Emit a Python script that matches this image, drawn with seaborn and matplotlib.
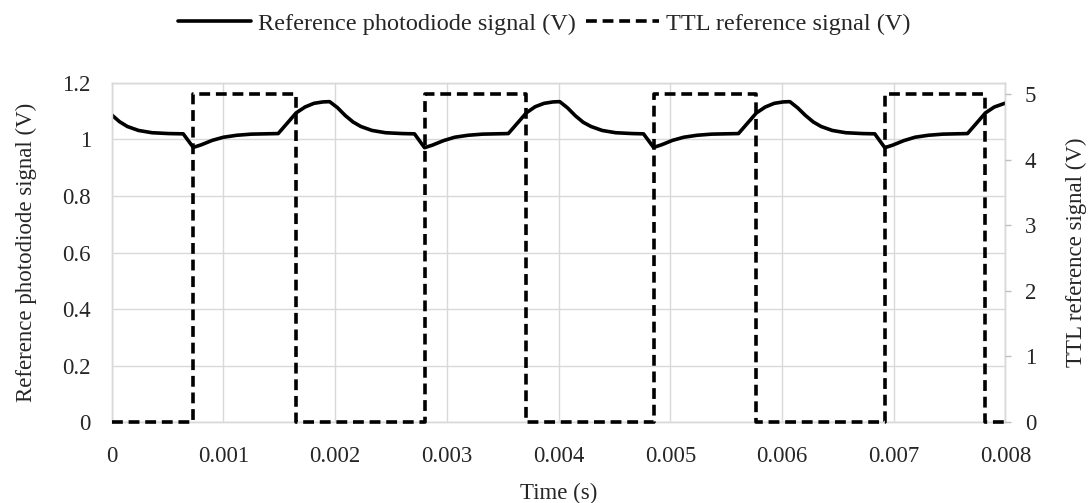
import numpy as np
import pandas as pd
import matplotlib
matplotlib.use("Agg")
import matplotlib.pyplot as plt
import seaborn as sns

# ---- data ----
pd_time = [0.0, 0.00007, 0.00014, 0.00024, 0.00036, 0.00051,
           0.00064, 0.00073, 0.00080, 0.00090, 0.00100, 0.00112, 0.00125, 0.00149, 0.00160, 0.00165,
           0.00173, 0.00181, 0.00189, 0.00195, 0.00202, 0.00209, 0.00216, 0.00223, 0.00233, 0.00245, 0.00260,
           0.00271, 0.00280, 0.00287, 0.00297, 0.00307, 0.00319, 0.00332, 0.00355, 0.00366, 0.00371,
           0.00379, 0.00387, 0.00395, 0.00401, 0.00408, 0.00415, 0.00422, 0.00429, 0.00439, 0.00451, 0.00466,
           0.00476, 0.00485, 0.00492, 0.00502, 0.00512, 0.00524, 0.00537, 0.00561, 0.00572, 0.00577,
           0.00585, 0.00593, 0.00601, 0.00607, 0.00614, 0.00621, 0.00628, 0.00635, 0.00645, 0.00657, 0.00672,
           0.00683, 0.00692, 0.00699, 0.00709, 0.00719, 0.00731, 0.00744, 0.00766, 0.00777, 0.00782,
           0.00790, 0.00800]
pd_signal = [1.087, 1.063, 1.046, 1.032, 1.024, 1.021,
             1.020, 0.972, 0.981, 0.997, 1.008, 1.015, 1.019, 1.021, 1.071, 1.094,
             1.115, 1.128, 1.133, 1.134, 1.113, 1.085, 1.062, 1.046, 1.032, 1.024, 1.021,
             1.020, 0.971, 0.980, 0.996, 1.008, 1.015, 1.019, 1.021, 1.071, 1.094,
             1.116, 1.128, 1.133, 1.134, 1.112, 1.084, 1.061, 1.046, 1.032, 1.024, 1.021,
             1.020, 0.972, 0.981, 0.997, 1.008, 1.015, 1.019, 1.021, 1.071, 1.094,
             1.115, 1.128, 1.133, 1.134, 1.112, 1.085, 1.062, 1.046, 1.032, 1.024, 1.021,
             1.020, 0.971, 0.980, 0.996, 1.008, 1.015, 1.019, 1.021, 1.071, 1.094,
             1.115, 1.129]

ttl_time = [0.0, 0.000731, 0.00165, 0.00280, 0.00371, 0.00485, 0.00577, 0.00692, 0.00782, 0.008]
ttl_signal = [0, 5, 0, 5, 0, 5, 0, 5, 0, 0]

x_ticks = [0, 0.001, 0.002, 0.003, 0.004, 0.005, 0.006, 0.007, 0.008]
x_ticklabels = ["0", "0.001", "0.002", "0.003", "0.004", "0.005", "0.006", "0.007", "0.008"]
y_ticks = [0, 0.2, 0.4, 0.6, 0.8, 1.0, 1.2]
y_ticklabels = ["0", "0.2", "0.4", "0.6", "0.8", "1", "1.2"]
y2_ticks = [0, 1, 2, 3, 4, 5]

label_pd = "Reference photodiode signal (V)"
label_ttl = "TTL reference signal (V)"

# ---- styling ----
sns.set_theme(style="white")
plt.rcParams["font.family"] = ["Liberation Serif", "DejaVu Serif"]
FS = 16.5
grid_c = "#d9d9d9"
txt_c = "#262626"

fig = plt.figure(figsize=(10.89, 5.03), dpi=100)
ax = fig.add_axes([0.1026, 0.161, 0.8207, 0.674])
ax2 = ax.twinx()

df_pd = pd.DataFrame({"t": pd_time, "v": pd_signal})
df_ttl = pd.DataFrame({"t": ttl_time, "v": ttl_signal})

sns.lineplot(data=df_pd, x="t", y="v", ax=ax, color="black", lw=2.6,
             sort=False, estimator=None, label=label_pd, legend=False, zorder=5)
sns.lineplot(data=df_ttl, x="t", y="v", ax=ax2, color="black", lw=2.6,
             drawstyle="steps-post", linestyle=(0, (3, 1.6)),
             sort=False, estimator=None, label=label_ttl, legend=False, zorder=5)
for ln in ax2.get_lines():
    ln.set_clip_on(False)

ax.set_xlim(0, 0.008)
ax.set_ylim(0, 1.2)
ax2.set_ylim(0, 5.17)

ax.set_xticks(x_ticks)
ax.set_xticklabels(x_ticklabels, fontsize=FS)
ax.set_yticks(y_ticks)
ax.set_yticklabels(y_ticklabels, fontsize=FS)
ax2.set_yticks(y2_ticks)
ax2.set_yticklabels([str(v) for v in y2_ticks], fontsize=FS)

ax.grid(True, color=grid_c, lw=1)
ax.set_axisbelow(True)
ax2.grid(False)
for a in (ax, ax2):
    for s in a.spines.values():
        s.set_color(grid_c)
        s.set_linewidth(1)
        s.set_zorder(0.5)

ax.tick_params(axis="x", length=0, pad=17, colors=txt_c)
ax.tick_params(axis="y", length=0, pad=15, colors=txt_c)
ax2.tick_params(axis="y", length=4, width=1, color="#bfbfbf", pad=10, labelcolor=txt_c)

ax.set_xlabel("Time (s)", fontsize=FS, color=txt_c, labelpad=12)
ax.set_ylabel(label_pd, fontsize=FS, color=txt_c, labelpad=18)
ax2.set_ylabel(label_ttl, fontsize=FS, color=txt_c, labelpad=21)

h1, l1 = ax.get_legend_handles_labels()
h2, l2 = ax2.get_legend_handles_labels()
fig.legend(h1 + h2, l1 + l2, loc="center", bbox_to_anchor=(0.5, 0.953), ncol=2,
           frameon=False, fontsize=17.5, handlelength=3.0, handletextpad=0.3,
           columnspacing=0.4, labelcolor=txt_c)

fig.savefig("out.png", dpi=100)
